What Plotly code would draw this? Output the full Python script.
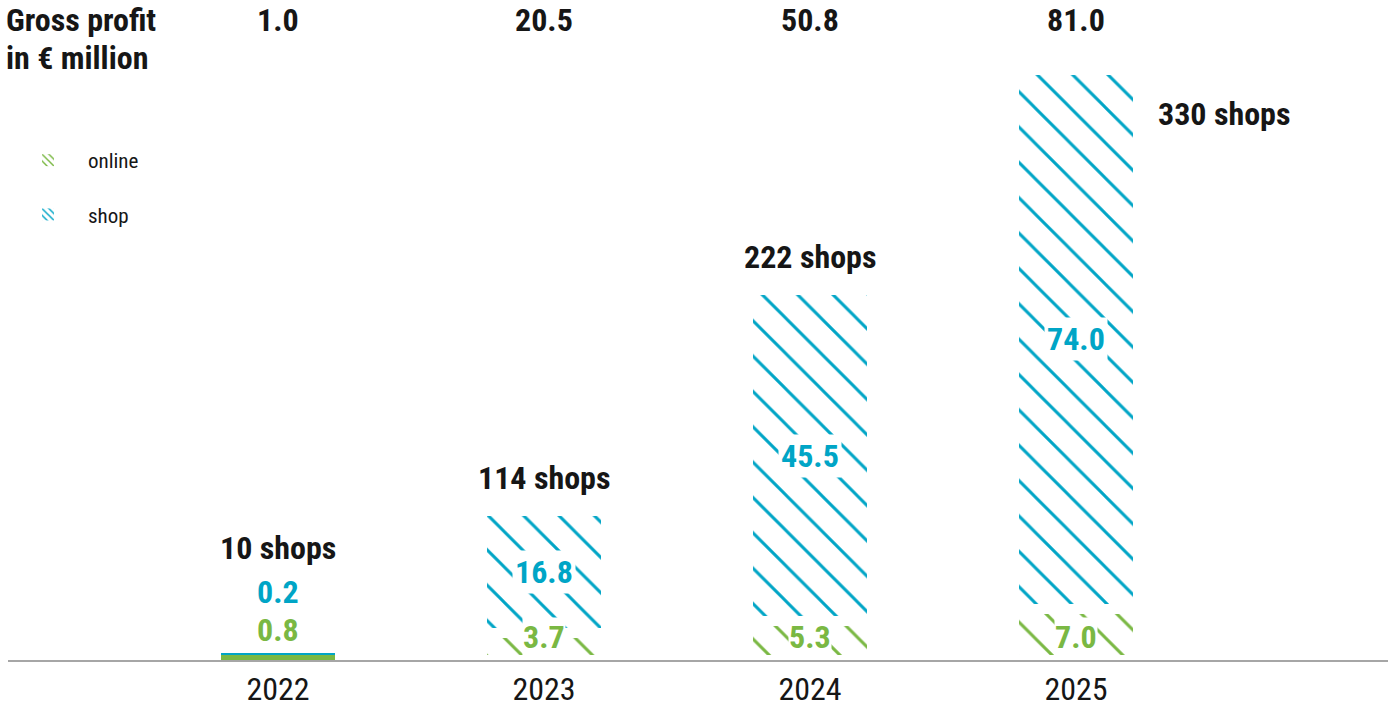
import plotly.graph_objects as go

# ---- data ----
years = ["2022", "2023", "2024", "2025"]
online = [0.8, 3.7, 5.3, 7.0]
shop = [0.2, 16.8, 45.5, 74.0]
total = [1.0, 20.5, 50.8, 81.0]
shop_counts = [10, 114, 222, 330]
series_names = ["online", "shop"]
title_lines = ["Gross profit", "in € million"]

# ---- styles ----
GREEN = "#7ab843"
BLUE = "#00a5c6"
INK = "#161616"
AXIS = "#a6a6a6"
FONT = "Roboto Condensed, Liberation Sans Narrow, Roboto, sans-serif"
FS = 32

solid_idx = [0]
hatch_idx = [1, 2, 3]


def pick(arr, idx):
    return [arr[i] for i in idx]


def hatch(color, size=25, solidity=0.12):
    return dict(shape="\\", size=size, solidity=solidity, fgcolor=color,
                bgcolor="white", fillmode="replace")


fig = go.Figure()

# solid first year
fig.add_trace(go.Bar(x=pick(years, solid_idx), y=pick(online, solid_idx),
                     name=series_names[0], legendgroup="g1",
                     marker=dict(color=GREEN, line=dict(width=0)),
                     width=0.43, showlegend=False, hoverinfo="x+y"))
fig.add_trace(go.Bar(x=pick(years, solid_idx), y=pick(shop, solid_idx),
                     name=series_names[1], legendgroup="g2",
                     marker=dict(color=BLUE, line=dict(width=0)),
                     width=0.43, showlegend=False, hoverinfo="x+y"))
# hatched later years
fig.add_trace(go.Bar(x=pick(years, hatch_idx), y=pick(online, hatch_idx),
                     name=series_names[0], legendgroup="g1", showlegend=False,
                     marker=dict(color=GREEN, pattern=hatch(GREEN),
                                 line=dict(color="white", width=10)),
                     width=0.466, hoverinfo="x+y"))
fig.add_trace(go.Bar(x=pick(years, hatch_idx), y=pick(shop, hatch_idx),
                     name=series_names[1], legendgroup="g2", showlegend=False,
                     marker=dict(color=BLUE, pattern=hatch(BLUE),
                                 line=dict(color="white", width=10)),
                     width=0.466, hoverinfo="x+y"))
# legend entries (finer hatch so the small swatch shows the pattern)
for name, col, grp in [(series_names[0], GREEN, "g1"), (series_names[1], BLUE, "g2")]:
    fig.add_trace(go.Bar(x=[None], y=[None], name=name, legendgroup=grp,
                         marker=dict(color=col, pattern=hatch(col, size=6, solidity=0.3),
                                     line=dict(width=0))))

ann = []
# title (two lines)
for k, line in enumerate(title_lines):
    ann.append(dict(x=0, xref="paper", y=1, yref="paper", xanchor="left", yanchor="middle",
                    text="<b>" + line + "</b>", align="left", showarrow=False,
                    font=dict(family=FONT, size=FS, color=INK), xshift=-4,
                    yshift=-20 - 38 * k))
# totals row
for i in range(len(years)):
    ann.append(dict(x=i, xref="x", y=1, yref="paper", yanchor="middle", yshift=-20,
                    text=f"<b>{total[i]:.1f}</b>", showarrow=False,
                    font=dict(family=FONT, size=FS, color=INK)))
# segment labels for hatched bars
for i in hatch_idx:
    ann.append(dict(x=i, y=0, yanchor="bottom", yshift=3, text=f"<b>{online[i]:.1f}</b>",
                    showarrow=False, bgcolor="white", borderpad=0,
                    font=dict(family=FONT, size=FS, color=GREEN)))
    ann.append(dict(x=i, y=online[i] + shop[i] / 2, text=f"<b>{shop[i]:.1f}</b>",
                    showarrow=False, bgcolor="white", borderpad=2,
                    font=dict(family=FONT, size=FS, color=BLUE)))
# first year: bar too short for inner labels -> stacked above it
ann.append(dict(x=0, y=total[0], yanchor="bottom", yshift=2,
                text=f"<b>{online[0]:.1f}</b>", showarrow=False,
                font=dict(family=FONT, size=FS, color=GREEN)))
ann.append(dict(x=0, y=total[0], yanchor="bottom", yshift=40,
                text=f"<b>{shop[0]:.1f}</b>", showarrow=False,
                font=dict(family=FONT, size=FS, color=BLUE)))
# shop counts
for i in range(3):
    ys = 84 if i == 0 else 12
    ann.append(dict(x=i, y=total[i], yanchor="bottom", yshift=ys,
                    text=f"<b>{shop_counts[i]} shops</b>", showarrow=False,
                    font=dict(family=FONT, size=FS, color=INK)))
ann.append(dict(x=3, y=total[3], xanchor="left", xshift=80, yanchor="middle", yshift=-44,
                text=f"<b>{shop_counts[3]} shops</b>", showarrow=False,
                font=dict(family=FONT, size=FS, color=INK)))

fig.update_layout(
    barmode="stack",
    width=1388, height=712,
    margin=dict(l=8, r=0, t=0, b=52),
    paper_bgcolor="white", plot_bgcolor="white",
    font=dict(family=FONT, color=INK),
    annotations=ann,
    legend=dict(x=0, xanchor="left", y=1 - 140 / 660, yanchor="top",
                traceorder="grouped", tracegroupgap=24,
                font=dict(family=FONT, size=21, color=INK),
                bgcolor="rgba(0,0,0,0)", itemwidth=70),
    xaxis=dict(type="category", range=[-1.015, 4.173], showline=True,
               linecolor=AXIS, linewidth=2, ticks="", showgrid=False, zeroline=False,
               tickfont=dict(family=FONT, size=FS, color=INK)),
    yaxis=dict(range=[0, 90.6], visible=False, showgrid=False, zeroline=False),
)

fig.write_html("out.html")
